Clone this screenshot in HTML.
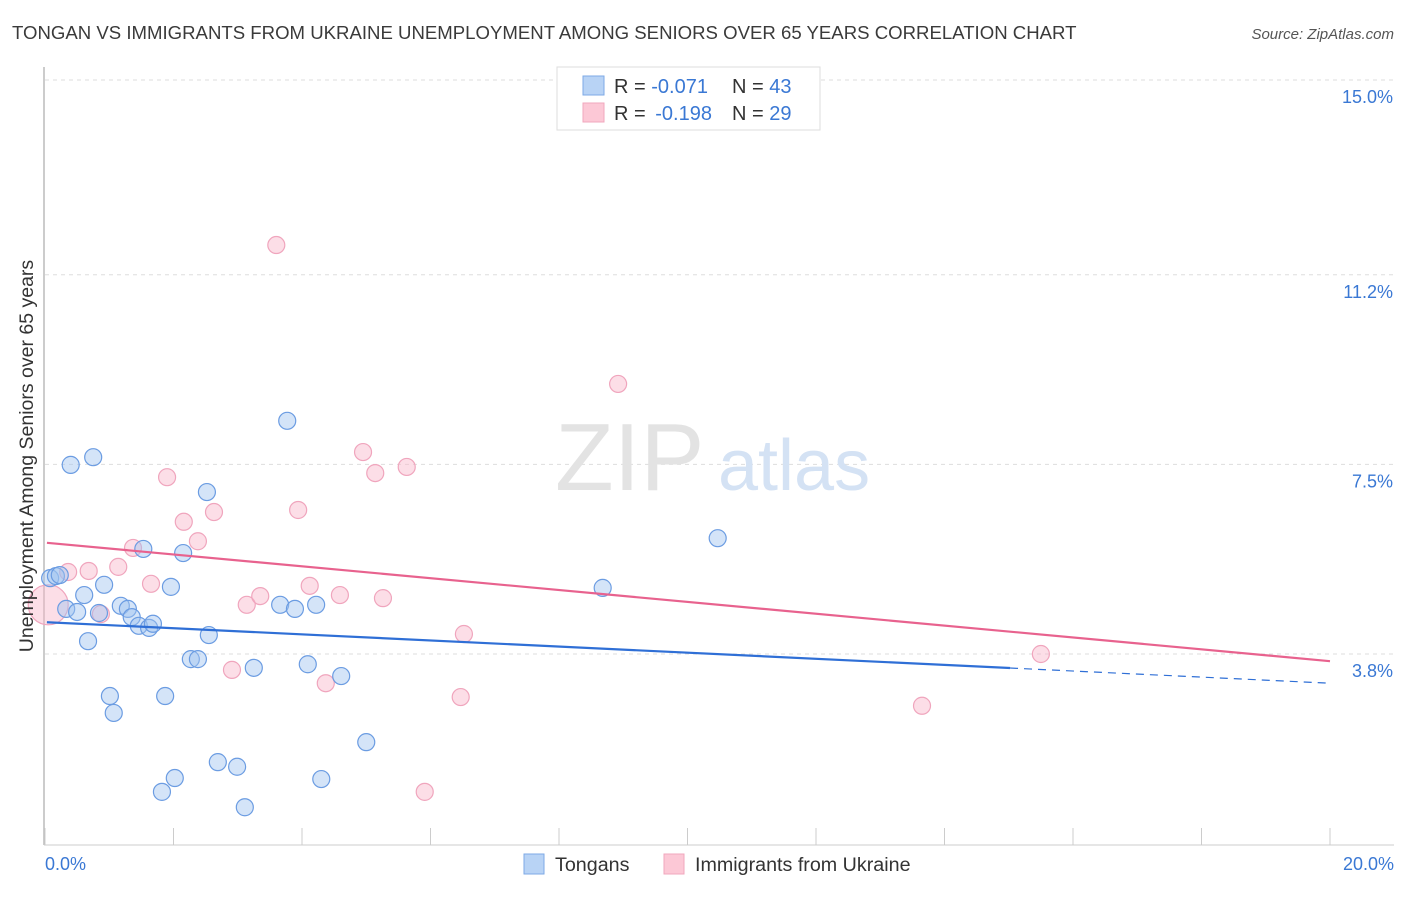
<!DOCTYPE html>
<html><head><meta charset="utf-8"><style>
body{margin:0;background:#fff;font-family:"Liberation Sans",sans-serif;}
svg text{font-family:"Liberation Sans",sans-serif;}
</style></head><body>
<svg id="chart" width="1406" height="892" xmlns="http://www.w3.org/2000/svg">
<text x="12" y="39" font-size="18.6" fill="#3a3a3a">TONGAN VS IMMIGRANTS FROM UKRAINE UNEMPLOYMENT AMONG SENIORS OVER 65 YEARS CORRELATION CHART</text>
<text x="1394" y="39" font-size="15" fill="#555" text-anchor="end" font-style="italic">Source: ZipAtlas.com</text>
<g id="grid"></g>
<text x="555" y="490" font-size="96" fill="#e3e3e3" font-family="Liberation Serif, serif">ZIP</text>
<text x="718" y="490" font-size="72" fill="#d4e2f4">atlas</text>
<line x1="44" y1="67" x2="44" y2="845" stroke="#bbb" stroke-width="1.5"/>
<line x1="44" y1="845" x2="1394" y2="845" stroke="#ccc"/>
<g id="xticks"></g>
<g id="points"></g>
<g id="trends"></g>
<text transform="translate(33,456) rotate(-90)" font-size="19.5" fill="#333" text-anchor="middle">Unemployment Among Seniors over 65 years</text>
<text x="45" y="870" font-size="18" fill="#3a78d4">0.0%</text>
<text x="1394" y="870" font-size="18" fill="#3a78d4" text-anchor="end">20.0%</text>
<g>
<rect x="557" y="67" width="263" height="63" fill="#fff" stroke="#ddd"/>
<rect x="583" y="76" width="21" height="19" fill="#b8d3f5" stroke="#7eaae6"/>
<rect x="583" y="103" width="21" height="19" fill="#fcc8d6" stroke="#f1a7bd"/>
<text x="614" y="93" font-size="20" fill="#333">R = <tspan fill="#3a78d4">-0.071</tspan><tspan x="732">N = </tspan><tspan fill="#3a78d4">43</tspan></text>
<text x="614" y="120" font-size="20" fill="#333">R = <tspan fill="#3a78d4" dx="4">-0.198</tspan><tspan x="732">N = </tspan><tspan fill="#3a78d4">29</tspan></text>
</g>
<g>
<rect x="524" y="854" width="20" height="20" fill="#b8d3f5" stroke="#7eaae6"/>
<text x="555" y="871" font-size="19.7" fill="#333">Tongans</text>
<rect x="664" y="854" width="20" height="20" fill="#fcc8d6" stroke="#f1a7bd"/>
<text x="695" y="871" font-size="19.7" fill="#333">Immigrants from Ukraine</text>
</g>
</svg>
<script>
const yTicks=[15.0,11.2,7.5,3.8];
const yTickLabels=["15.0%","11.2%","7.5%","3.8%"];
const xTicks=[0,2,4,6,8,10,12,14,16,18,20];
const tongansX=[0.08,0.17,0.23,0.33,0.40,0.50,0.61,0.67,0.75,0.84,0.92,1.01,1.07,1.18,1.29,1.35,1.46,1.53,1.62,1.68,1.82,1.87,1.96,2.02,2.15,2.27,2.38,2.52,2.55,2.69,2.99,3.11,3.25,3.66,3.77,3.89,4.09,4.22,4.30,4.61,5.00,8.68,10.47];
const tongansY=[5.28,5.32,5.34,4.68,7.49,4.62,4.95,4.05,7.64,4.60,5.15,2.98,2.65,4.74,4.68,4.52,4.35,5.85,4.31,4.39,1.11,2.98,5.11,1.38,5.77,3.70,3.70,6.96,4.17,1.69,1.60,0.81,3.53,4.76,8.35,4.68,3.60,4.76,1.36,3.37,2.08,5.09,6.06];
const ukraineX=[0.05,0.36,0.68,0.87,1.14,1.37,1.65,1.90,2.16,2.38,2.63,2.91,3.14,3.35,3.60,3.94,4.12,4.37,4.59,4.95,5.14,5.26,5.63,5.91,6.47,6.52,8.92,13.65,15.50];
const ukraineY=[4.76,5.40,5.42,4.58,5.50,5.87,5.17,7.25,6.38,6.00,6.57,3.49,4.76,4.93,11.78,6.61,5.13,3.23,4.95,7.74,7.33,4.89,7.45,1.11,2.96,4.19,9.07,2.79,3.80];
const tongansTrend=[4.42,3.23];
const tongansSolidEnd=15.02;
const ukraineTrend=[5.97,3.66];

const NS="http://www.w3.org/2000/svg";
const xs=v=>45+v*64.25;
const ys=v=>80+(15-v)*51.25;
function mk(tag,attrs,parent){const e=document.createElementNS(NS,tag);for(const k in attrs)e.setAttribute(k,attrs[k]);document.getElementById(parent).appendChild(e);return e;}

yTicks.forEach((t,i)=>{
  const l=mk('line',{x1:45,x2:1394,y1:ys(t),y2:ys(t),stroke:'#ddd','stroke-dasharray':'4,4'},'grid');
  
  
  const tx=mk('text',{x:1393,y:ys(t)+23,'font-size':18,fill:'#3a78d4','text-anchor':'end'},'grid');
  tx.textContent=yTickLabels[i];
  
  
});
xTicks.forEach(t=>{
  const l=mk('line',{x1:xs(t),x2:xs(t),y1:828,y2:845,stroke:'#ccc'},'xticks');
  
  
});
function dots(X,Y,fill,stroke,name){
  X.forEach((x,i)=>{
    const c=mk('circle',{cx:xs(x),cy:ys(Y[i]),r:(name==='ukraine-point'&&i===0)?20:8.5,fill:fill,stroke:stroke,'stroke-width':1.2},'points');
    
    
  });
}
dots(ukraineX,ukraineY,'rgba(248,182,202,0.45)','#f0a5bd','ukraine-point');
dots(tongansX,tongansY,'rgba(160,196,240,0.45)','#6b9ce2','tongan-point');

const slope=(tongansTrend[1]-tongansTrend[0])/20;
let t1=mk('line',{x1:xs(0.03),y1:ys(tongansTrend[0]),x2:xs(tongansSolidEnd),y2:ys(tongansTrend[0]+slope*tongansSolidEnd),stroke:'#2f6fd6','stroke-width':2.2},'trends');


let t2=mk('line',{x1:xs(tongansSolidEnd),y1:ys(tongansTrend[0]+slope*tongansSolidEnd),x2:xs(20),y2:ys(tongansTrend[1]),stroke:'#2f6fd6','stroke-width':1.2,'stroke-dasharray':'8,6'},'trends');


let t3=mk('line',{x1:xs(0.03),y1:ys(ukraineTrend[0]),x2:xs(20),y2:ys(ukraineTrend[1]),stroke:'#e8628e','stroke-width':2.2},'trends');


</script>
</body></html>
